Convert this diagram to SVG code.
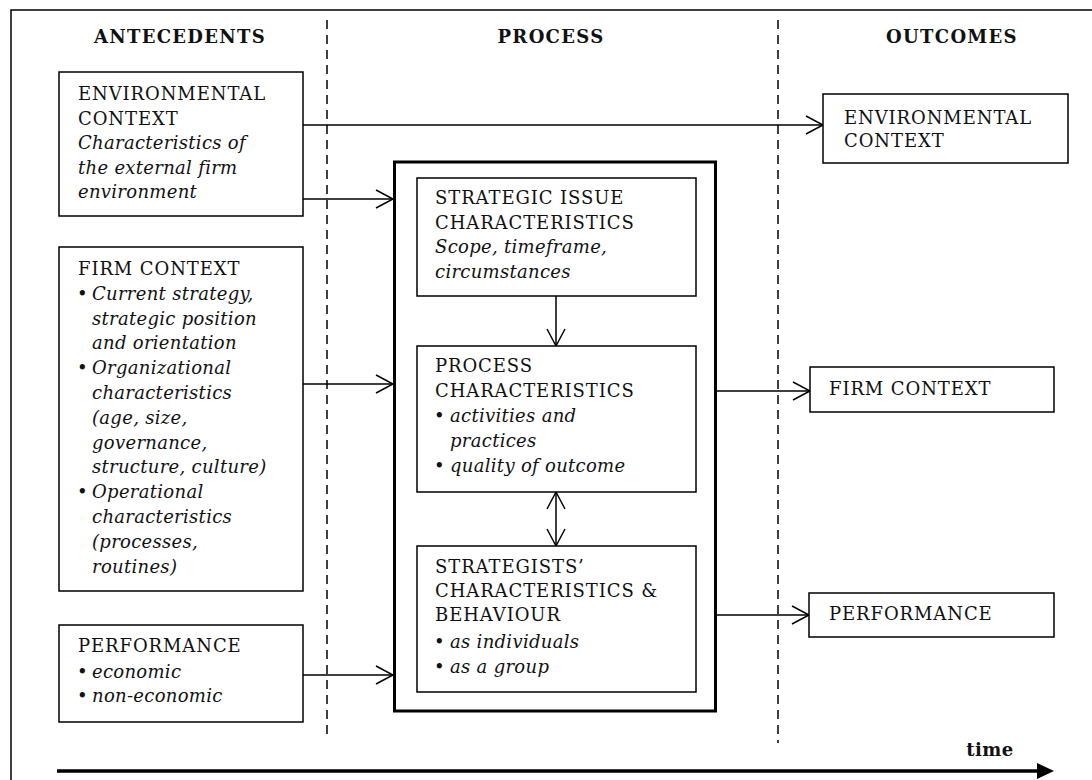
<svg xmlns="http://www.w3.org/2000/svg" width="1092" height="780" viewBox="0 0 1092 780">
<style>
.box{fill:#fff;stroke:#000;stroke-width:1.5}
.big{fill:none;stroke:#000;stroke-width:3}
.t{font-family:"DejaVu Serif","Liberation Serif",serif;font-size:18px;fill:#111;letter-spacing:0.9px}
.i{font-family:"DejaVu Serif","Liberation Serif",serif;font-size:18px;font-style:italic;fill:#111;letter-spacing:0.3px}
.h{font-family:"DejaVu Serif","Liberation Serif",serif;font-size:18px;font-weight:bold;fill:#111;text-anchor:middle;letter-spacing:1.3px}
.c{fill:none;stroke:#000;stroke-width:1.5}
.dash{fill:none;stroke:#000;stroke-width:1.5;stroke-dasharray:9 6}
</style>
<defs>
<marker id="ah" markerUnits="userSpaceOnUse" markerWidth="20" markerHeight="20" viewBox="-1 -1 20 20" refX="17" refY="9" orient="auto-start-reverse">
<path d="M0,0 L17,9 L0,18" fill="none" stroke="#000" stroke-width="1.5"/>
</marker>
</defs>
<rect x="0" y="0" width="1092" height="780" fill="#fff"/>
<g id="frame">
<rect x="11" y="10" width="1100" height="800" fill="none" stroke="#000" stroke-width="1.5"/>
<line class="dash" x1="327" y1="20" x2="327" y2="736"/>
<line class="dash" x1="778" y1="20" x2="778" y2="743"/>
<text class="h" x="180" y="43">ANTECEDENTS</text>
<text class="h" x="551" y="43">PROCESS</text>
<text class="h" x="952" y="43">OUTCOMES</text>
</g>
<g id="connectors">
<path class="c" d="M303,125 H823" marker-end="url(#ah)"/>
<path class="c" d="M303,199 H393" marker-end="url(#ah)"/>
<path class="c" d="M303,384 H393" marker-end="url(#ah)"/>
<path class="c" d="M303,675 H393" marker-end="url(#ah)"/>
<path class="c" d="M556,296 V346" marker-end="url(#ah)"/>
<path class="c" d="M556,492 V546" marker-start="url(#ah)" marker-end="url(#ah)"/>
<path class="c" d="M717,391 H810" marker-end="url(#ah)"/>
<path class="c" d="M717,615 H809" marker-end="url(#ah)"/>
<path d="M57,771 H1040" fill="none" stroke="#000" stroke-width="3.5"/>
<polygon points="1037,763 1054,771 1037,779" fill="#000"/>
</g>
<g id="time-label">
<text class="h" x="990" y="756" style="letter-spacing:0.5px">time</text>
</g>
<g id="env-ante">
<rect class="box" x="59" y="72" width="244" height="144"/>
<text class="t" x="78" y="100">ENVIRONMENTAL</text>
<text class="t" x="78" y="125">CONTEXT</text>
<text class="i" x="78" y="149">Characteristics of</text>
<text class="i" x="78" y="174">the external firm</text>
<text class="i" x="78" y="198">environment</text>
</g>
<g id="firm-ante">
<rect class="box" x="59" y="247" width="244" height="344"/>
<text class="t" x="78" y="275">FIRM CONTEXT</text>
<text class="t" x="77" y="300">•</text><text class="i" x="92" y="300">Current strategy,</text>
<text class="i" x="92" y="325">strategic position</text>
<text class="i" x="92" y="349">and orientation</text>
<text class="t" x="77" y="374">•</text><text class="i" x="92" y="374">Organizational</text>
<text class="i" x="92" y="399">characteristics</text>
<text class="i" x="92" y="424">(age, size,</text>
<text class="i" x="92" y="449">governance,</text>
<text class="i" x="92" y="473">structure, culture)</text>
<text class="t" x="77" y="498">•</text><text class="i" x="92" y="498">Operational</text>
<text class="i" x="92" y="523">characteristics</text>
<text class="i" x="92" y="548">(processes,</text>
<text class="i" x="92" y="573">routines)</text>
</g>
<g id="perf-ante">
<rect class="box" x="59" y="625" width="244" height="97"/>
<text class="t" x="78" y="652">PERFORMANCE</text>
<text class="t" x="77" y="678">•</text><text class="i" x="92" y="678">economic</text>
<text class="t" x="77" y="702">•</text><text class="i" x="92" y="702">non-economic</text>
</g>
<g id="process-frame">
<rect class="big" x="394.5" y="162" width="321" height="549"/>
</g>
<g id="strategic-issue">
<rect class="box" x="417" y="178" width="279" height="118"/>
<text class="t" x="435" y="204">STRATEGIC ISSUE</text>
<text class="t" x="435" y="229">CHARACTERISTICS</text>
<text class="i" x="435" y="253">Scope, timeframe,</text>
<text class="i" x="435" y="278">circumstances</text>
</g>
<g id="process-char">
<rect class="box" x="417" y="346" width="279" height="146"/>
<text class="t" x="435" y="372">PROCESS</text>
<text class="t" x="435" y="397">CHARACTERISTICS</text>
<text class="t" x="434" y="422">•</text><text class="i" x="450" y="422">activities and</text>
<text class="i" x="450" y="447">practices</text>
<text class="t" x="434" y="472">•</text><text class="i" x="450" y="472">quality of outcome</text>
</g>
<g id="strategists">
<rect class="box" x="417" y="546" width="279" height="146"/>
<text class="t" x="435" y="573">STRATEGISTS’</text>
<text class="t" x="435" y="597">CHARACTERISTICS &amp;</text>
<text class="t" x="435" y="621">BEHAVIOUR</text>
<text class="t" x="434" y="648">•</text><text class="i" x="450" y="648">as individuals</text>
<text class="t" x="434" y="673">•</text><text class="i" x="450" y="673">as a group</text>
</g>
<g id="env-out">
<rect class="box" x="823" y="94" width="245" height="69"/>
<text class="t" x="844" y="124">ENVIRONMENTAL</text>
<text class="t" x="844" y="147">CONTEXT</text>
</g>
<g id="firm-out">
<rect class="box" x="810" y="367" width="244" height="45"/>
<text class="t" x="829" y="395">FIRM CONTEXT</text>
</g>
<g id="perf-out">
<rect class="box" x="809" y="593" width="245" height="44"/>
<text class="t" x="829" y="620">PERFORMANCE</text>
</g>
</svg>
